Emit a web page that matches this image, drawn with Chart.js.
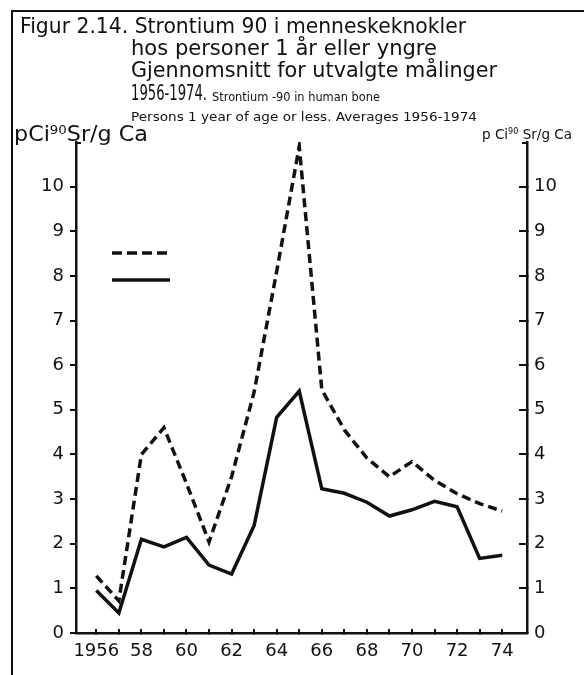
<!DOCTYPE html>
<html>
<head>
<meta charset="utf-8">
<script src="https://cdn.jsdelivr.net/npm/chart.js@4/dist/chart.umd.min.js"></script>
<style>
  body { margin: 0; background: #fff; }
  #wrap { position: relative; width: 584px; height: 675px; overflow: hidden; font-family: "DejaVu Sans", sans-serif; color: #111; }
  #frame { position: absolute; left: 11px; top: 10px; width: 600px; height: 700px; border-left: 2px solid #111; border-top: 2px solid #111; }
  canvas { position: absolute; left: 0; top: 0; }
  .t { position: absolute; white-space: nowrap; transform-origin: 0 0; line-height: 1; }
  .big { font-size: 21px; }
  .small { font-size: 12px; }
  sup { font-size: 0.6em; vertical-align: 0; position: relative; top: -0.55em; }
</style>
</head>
<body>
<div id="wrap">
  <div id="frame"></div>
  <canvas id="chart" width="584" height="675"></canvas>
  <div class="t big" style="left:20px; top:16px" data-w="446">Figur 2.14. Strontium 90 i menneskeknokler</div>
  <div class="t big" style="left:131px; top:38px" data-w="306">hos personer 1 år eller yngre</div>
  <div class="t big" style="left:131px; top:60px" data-w="366">Gjennomsnitt for utvalgte målinger</div>
  <div class="t big" style="left:131px; top:83px" data-w="76">1956-1974.</div>
  <div class="t small" style="left:212px; top:91px" data-w="168">Strontium -90 in human bone</div>
  <div class="t small" style="left:131px; top:111px" data-w="346">Persons 1 year of age or less. Averages 1956-1974</div>
  <div class="t big" style="left:14px; top:124px" data-w="134">pCi<sup>90</sup>Sr/g Ca</div>
  <div class="t small" style="left:482px; top:127px; font-size:14px" data-w="90">p Ci<sup>90</sup> Sr/g Ca</div>
</div>
<script>
// years and values (pCi 90Sr / g Ca)
const years = [1956, 1957, 1958, 1959, 1960, 1961, 1962, 1963, 1964, 1965,
               1966, 1967, 1968, 1969, 1970, 1971, 1972, 1973, 1974];
const yearLabels = ["1956", "", "58", "", "60", "", "62", "", "64", "",
                    "66", "", "68", "", "70", "", "72", "", "74"];
const solidValues = [0.95, 0.45, 2.1, 1.93, 2.14, 1.52, 1.32, 2.41, 4.83, 5.42,
                     3.23, 3.13, 2.93, 2.62, 2.76, 2.95, 2.83, 1.67, 1.74];
const dashedValues = [1.28, 0.72, 4.0, 4.6, 3.35, 2.04, 3.5, 5.4, 8.1, 10.9,
                      5.45, 4.55, 3.92, 3.5, 3.84, 3.42, 3.12, 2.9, 2.73];
const yTicks = [0, 1, 2, 3, 4, 5, 6, 7, 8, 9, 10];

// squeeze the text lines to the widths in the scan
document.querySelectorAll("[data-w]").forEach(el => {
    const w = el.getBoundingClientRect().width;
    el.style.transform = `scaleX(${el.dataset.w / w})`;
});

const ink = "#111";
const tickFont = { family: "DejaVu Sans", size: 18 };

const toPoints = (values) => years.map((x, i) => ({ x: x, y: values[i] }));

// the unlabelled key lines and the little hooks on top of the axes
const extras = {
    id: "extras",
    afterDraw(chart) {
        const ctx = chart.ctx;
        const area = chart.chartArea;
        ctx.save();
        ctx.strokeStyle = ink;
        ctx.lineWidth = 3.5;
        ctx.setLineDash([10, 5]);
        ctx.beginPath();
        ctx.moveTo(112, 253);
        ctx.lineTo(170, 253);
        ctx.stroke();
        ctx.setLineDash([]);
        ctx.beginPath();
        ctx.moveTo(112, 280);
        ctx.lineTo(170, 280);
        ctx.stroke();
        ctx.lineWidth = 2;
        ctx.beginPath();
        ctx.moveTo(area.left, area.top + 1);
        ctx.lineTo(area.left + 5, area.top + 1);
        ctx.moveTo(area.right, area.top + 1);
        ctx.lineTo(area.right - 5, area.top + 1);
        ctx.stroke();
        ctx.restore();
    }
};

new Chart("chart", {
    type: "line",
    data: {
        datasets: [{
            data: toPoints(dashedValues),
            borderColor: ink,
            borderWidth: 3.5,
            borderDash: [9, 5],
            pointRadius: 0,
            tension: 0
        }, {
            data: toPoints(solidValues),
            borderColor: ink,
            borderWidth: 3.5,
            pointRadius: 0,
            tension: 0
        }]
    },
    options: {
        responsive: false,
        animation: false,
        events: [],
        layout: { padding: { top: 142, left: 0, right: 0, bottom: 0 } },
        plugins: { legend: { display: false }, tooltip: { enabled: false } },
        scales: {
            x: {
                type: "linear",
                min: 1955.1,
                max: 1975.1,
                afterBuildTicks: (scale) => { scale.ticks = years.map(v => ({ value: v })); },
                afterFit: (scale) => { scale.height = 42; },
                ticks: {
                    autoSkip: false,
                    maxRotation: 0,
                    padding: 12,
                    color: ink,
                    font: tickFont,
                    callback: (value, index) => yearLabels[index]
                },
                grid: { drawOnChartArea: false, tickLength: -4, color: ink, lineWidth: 2 },
                border: { color: ink, width: 2.5 }
            },
            y: {
                position: "left",
                min: 0,
                max: 11,
                afterBuildTicks: (scale) => { scale.ticks = yTicks.map(v => ({ value: v })); },
                afterFit: (scale) => { scale.width = 76; },
                ticks: { padding: 6, color: ink, font: tickFont },
                grid: { drawOnChartArea: false, tickLength: 6, color: ink, lineWidth: 2 },
                border: { color: ink, width: 2.5 }
            },
            y2: {
                position: "right",
                min: 0,
                max: 11,
                afterBuildTicks: (scale) => { scale.ticks = yTicks.map(v => ({ value: v })); },
                afterFit: (scale) => { scale.width = 57; },
                ticks: { padding: 15, color: ink, font: tickFont },
                grid: { drawOnChartArea: false, tickLength: -8, color: ink, lineWidth: 2 },
                border: { color: ink, width: 2.5 }
            }
        }
    },
    plugins: [extras]
});
</script>
</body>
</html>
